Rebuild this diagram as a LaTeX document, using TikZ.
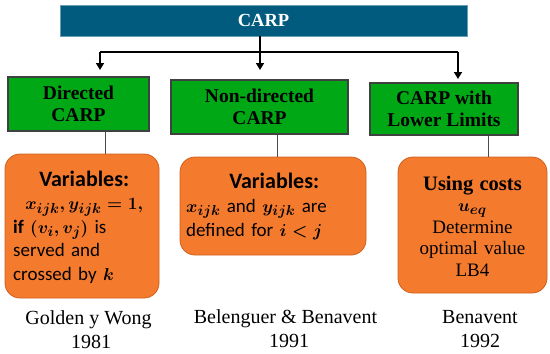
\documentclass[tikz,border=0pt]{standalone}
\usepackage{amsmath,bm}
\usepackage{fontspec}
\setmainfont{Liberation Serif}
\setsansfont{Carlito}
\usetikzlibrary{arrows.meta}

\definecolor{carpblue}{HTML}{005B7F}
\definecolor{carpgreen}{HTML}{00A815}
\definecolor{carporange}{HTML}{F47A2E}
\definecolor{carpedge}{HTML}{D0601E}

\begin{document}
\begin{tikzpicture}[x=1pt, y=-1pt,
        head/.style={draw=carpblue!60!white, fill=carpblue, line width=0.8pt, text=white,
            font=\fontsize{18.5}{20}\selectfont\bfseries, inner sep=0pt},
        kind/.style={draw=black!75, fill=carpgreen, line width=1.4pt, align=center,
            font=\fontsize{19.5}{22}\selectfont\bfseries, inner sep=0pt},
        model/.style={draw=carpedge, fill=carporange, line width=0.8pt, rounded corners=15pt,
            inner sep=0pt},
        cite/.style={anchor=base, font=\fontsize{20}{24}\selectfont, inner sep=0pt},
        branch/.style={line width=1.5pt, -{Triangle[length=7pt, width=8pt]}},
        link/.style={draw=black!70, line width=0.8pt}
    ]
    \useasboundingbox (0,0) rectangle (550,354);

    % top level
    \node[head, minimum width=407pt, minimum height=31pt] (carp) at (263.5,20.5) {CARP};

    % three kinds of CARP
    \node[kind, minimum width=141pt, minimum height=54pt] (dir) at (78.5,104) {Directed\\CARP};
    \node[kind, minimum width=177pt, minimum height=54pt] (non) at (259.5,107) {Non-directed\\CARP};
    \node[kind, minimum width=148pt, minimum height=52pt] (low) at (444,109) {CARP with\\Lower Limits};

    \coordinate (split) at (260,52);
    \draw[branch] (carp.south -| split) -- (split) -- ++(0,18);
    \draw[line width=1.5pt] (split) -- (100,52) coordinate (left);
    \draw[line width=1.5pt] (split) -- (458,52) coordinate (right);
    \draw[branch] (left) -- ++(0,18);
    \draw[branch] (right) -- ++(0,27);

    % formulations
    \node[model, minimum width=154pt, minimum height=144pt] (var1) at (82,226) {};
    \node[anchor=base west, text width=142pt, align=left, inner sep=0pt,
        font=\sffamily\fontsize{19}{23.5}\selectfont] at (13,186)
        {\makebox[142pt][c]{\fontsize{22}{23}\selectfont\bfseries Variables:}\\
         \makebox[142pt][c]{\boldmath$x_{ijk}, y_{ijk} = 1,$}\\
         \textbf{if} {\boldmath$(v_i, v_j)$} is\\
         served and\\
         crossed by {\boldmath$k$}};

    \node[model, minimum width=186pt, minimum height=98pt] (var2) at (273,206) {};
    \node[anchor=base west, text width=176pt, align=left, inner sep=0pt,
        font=\sffamily\fontsize{19}{24}\selectfont] at (186,188)
        {\makebox[176pt][c]{\fontsize{22}{23}\selectfont\bfseries Variables:}\\
         {\boldmath$x_{ijk}$} and {\boldmath$y_{ijk}$} are\\
         defined for {\boldmath$i < j$}};

    \node[model, minimum width=149pt, minimum height=136pt] (cost) at (472.5,225) {};
    \node[anchor=base, text width=145pt, align=center, inner sep=0pt,
        font=\fontsize{19}{21.5}\selectfont] at (472.5,190)
        {{\fontsize{20.5}{21.5}\selectfont\bfseries Using costs}\\
         {\boldmath$u_{eq}$}\\
         Determine\\ optimal value\\ LB4};

    \draw[link] (dir.south -| 105,0) -- (var1.north -| 105,0);
    \draw[link] (non.south -| 277,0) -- (var2.north -| 277,0);
    \draw[link] (low.south -| 488,0) -- (cost.north -| 488,0);

    % references
    \node[cite] (ref1) at (88.5,324) {Golden y Wong};
    \node[cite] (yr1) at (91,348) {1981};
    \node[cite] (ref2) at (285.5,323) {Belenguer \& Benavent};
    \node[cite] (yr2) at (289,347) {1991};
    \node[cite] (ref3) at (480,323) {Benavent};
    \node[cite] (yr3) at (480,347) {1992};
\end{tikzpicture}
\end{document}
